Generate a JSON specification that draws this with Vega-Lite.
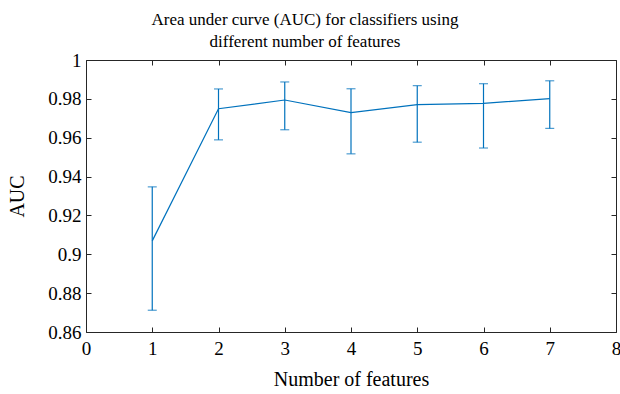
{
  "$schema": "https://vega.github.io/schema/vega-lite/v6.json",
  "width": 530,
  "height": 272,
  "autosize": {"type": "none"},
  "padding": {"left": 86, "top": 60, "right": 4, "bottom": 62},
  "background": "white",
  "title": {
    "text": ["Area under curve (AUC) for classifiers using", "different number of features"],
    "font": "Liberation Serif",
    "fontSize": 17,
    "fontWeight": "normal",
    "color": "#000000",
    "lineHeight": 22,
    "anchor": "middle",
    "dx": -46,
    "offset": 0
  },
  "data": {
    "values": [
      {"n": 1, "auc": 0.9069, "lo": 0.8712, "hi": 0.9347},
      {"n": 2, "auc": 0.9749, "lo": 0.9589, "hi": 0.9851},
      {"n": 3, "auc": 0.9794, "lo": 0.9641, "hi": 0.9887},
      {"n": 4, "auc": 0.9729, "lo": 0.9517, "hi": 0.9852},
      {"n": 5, "auc": 0.9770, "lo": 0.9577, "hi": 0.9868},
      {"n": 6, "auc": 0.9777, "lo": 0.9547, "hi": 0.9878},
      {"n": 7, "auc": 0.9801, "lo": 0.9648, "hi": 0.9893}
    ]
  },
  "config": {
    "view": {"stroke": null},
    "axis": {
      "domainColor": "#262626",
      "tickColor": "#262626",
      "domainWidth": 1,
      "tickWidth": 1,
      "tickSize": -5,
      "grid": false,
      "labelFont": "Liberation Serif",
      "labelFontSize": 19,
      "labelColor": "#000000",
      "titleFont": "Liberation Serif",
      "titleFontSize": 20,
      "titleFontWeight": "normal",
      "titleColor": "#000000"
    }
  },
  "layer": [
    {
      "mark": {"type": "line", "color": "#0072BD", "strokeWidth": 1.2},
      "encoding": {
        "x": {
          "field": "n", "type": "quantitative",
          "scale": {"domain": [0, 8], "nice": false},
          "axis": {"orient": "bottom", "values": [0,1,2,3,4,5,6,7,8], "labelPadding": 12, "title": "Number of features", "titlePadding": 11, "labelFlush": false}
        },
        "y": {
          "field": "auc", "type": "quantitative",
          "scale": {"domain": [0.86, 1], "nice": false, "zero": false},
          "axis": {"orient": "left", "values": [0.86,0.88,0.9,0.92,0.94,0.96,0.98,1], "format": ".2~f", "labelPadding": 10, "title": "AUC", "titlePadding": 20, "labelFlush": false}
        }
      }
    },
    {
      "mark": {"type": "rule", "color": "#0072BD", "strokeWidth": 1.2},
      "encoding": {
        "x": {
          "field": "n", "type": "quantitative",
          "axis": {"orient": "top", "values": [0,1,2,3,4,5,6,7,8], "labels": false, "title": null}
        },
        "y": {
          "field": "lo", "type": "quantitative",
          "axis": {"orient": "right", "values": [0.86,0.88,0.9,0.92,0.94,0.96,0.98,1], "labels": false, "title": null}
        },
        "y2": {"field": "hi"}
      }
    },
    {
      "mark": {"type": "tick", "color": "#0072BD", "orient": "horizontal", "size": 9, "thickness": 1.2},
      "encoding": {
        "x": {"field": "n", "type": "quantitative", "axis": null},
        "y": {"field": "lo", "type": "quantitative", "axis": null}
      }
    },
    {
      "mark": {"type": "tick", "color": "#0072BD", "orient": "horizontal", "size": 9, "thickness": 1.2},
      "encoding": {
        "x": {"field": "n", "type": "quantitative", "axis": null},
        "y": {"field": "hi", "type": "quantitative", "axis": null}
      }
    }
  ],
  "resolve": {"axis": {"x": "independent", "y": "independent"}}
}
